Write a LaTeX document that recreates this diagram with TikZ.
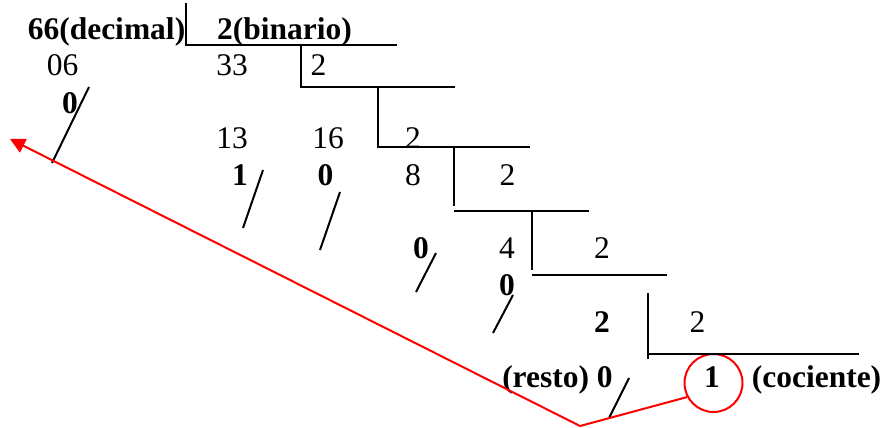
\documentclass[tikz,border=0pt]{standalone}
\usepackage{fontspec}
\setmainfont{Liberation Serif}
\usetikzlibrary{arrows.meta}
\begin{document}
\begin{tikzpicture}[x=1pt,y=-1pt,
  txt/.style={inner sep=0pt,anchor=base,font=\fontsize{31.5}{33}\selectfont},
  btxt/.style={txt,font=\fontsize{31.5}{33}\selectfont\bfseries},
  rule/.style={line width=2pt,black},
  slash/.style={line width=2pt,black},
  redline/.style={line width=2pt,red}]
\useasboundingbox (0,0) rectangle (883,428);
% texts
\node[btxt] (dec) at (106.5,40) {66(decimal)};
\node[btxt] (bin) at (284.5,40) {2(binario)};
\node[txt] (n06) at (62.5,75) {06};
\node[txt] (n33) at (232,75) {33};
\node[txt] (d1) at (318.5,75) {2};
\node[btxt] (r1) at (70,113) {0};
\node[txt] (n13) at (232,148) {13};
\node[txt] (n16) at (328,148) {16};
\node[txt] (d2) at (413,148) {2};
\node[btxt] (r2) at (240,185) {1};
\node[btxt] (r3) at (325.5,185) {0};
\node[txt] (n8) at (413,185) {8};
\node[txt] (d3) at (507.5,185) {2};
\node[btxt] (r4) at (421,258) {0};
\node[txt] (n4) at (507,258) {4};
\node[txt] (d4) at (602,258) {2};
\node[btxt] (r5) at (507,295) {0};
\node[btxt] (n2) at (602,332) {2};
\node[txt] (d5) at (697.5,332) {2};
\node[btxt] (resto) at (557.5,387) {(resto) 0};
\node[btxt] (q) at (712,387) {1};
\node[btxt] (coc) at (816.5,387) {(cociente)};
\node[draw=red,line width=2pt,circle,minimum size=58pt,inner sep=0pt] (circ) at (713.5,383) {};
% division brackets
\draw[rule] (186,3) -- (186,45) -- (397,45);
\draw[rule] (301,45) -- (301,87) -- (455,87);
\draw[rule] (378,87) -- (378,147) -- (530,147);
\draw[rule] (454,147) -- (454,206) (454,211) -- (589,211);
\draw[rule] (532,211) -- (532,270) (532,275) -- (667,275);
\draw[rule] (648,293) -- (648,359) (648,354) -- (859,354);
% slashes
\coordinate (s1a) at (89,87); \coordinate (s1b) at (52,163);
\coordinate (s2a) at (263,170); \coordinate (s2b) at (243,228);
\coordinate (s3a) at (340,192); \coordinate (s3b) at (320,250);
\coordinate (s4a) at (436,253); \coordinate (s4b) at (416,292);
\coordinate (s5a) at (513,295); \coordinate (s5b) at (493,333);
\coordinate (s6a) at (629,378); \coordinate (s6b) at (609,418);
\draw[slash] (s1a) -- (s1b);
\draw[slash] (s2a) -- (s2b);
\draw[slash] (s3a) -- (s3b);
\draw[slash] (s4a) -- (s4b);
\draw[slash] (s5a) -- (s5b);
\draw[slash] (s6a) -- (s6b);
% red arrow
\coordinate (v) at (580,426);
\coordinate (tip) at (10,139);
\draw[redline,-{Triangle[length=15pt,width=15pt]}] (circ.208) -- (v) -- (tip);
\end{tikzpicture}
\end{document}
